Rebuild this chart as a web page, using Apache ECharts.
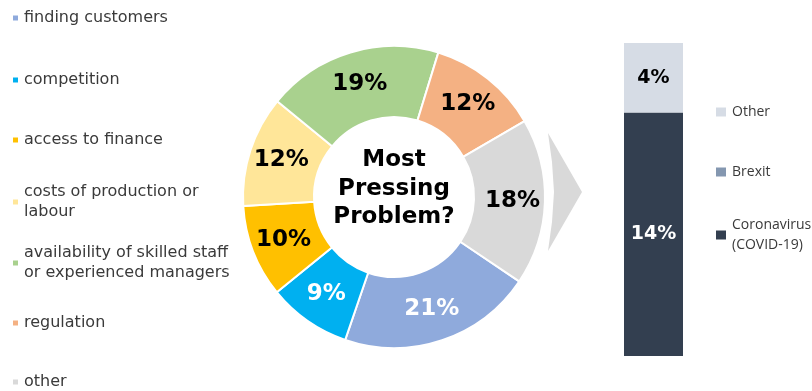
<!DOCTYPE html>
<html>
<head>
<meta charset="utf-8">
<script src="https://cdn.jsdelivr.net/npm/echarts@6/dist/echarts.min.js"></script>
<style>
  html, body { margin: 0; padding: 0; background: #ffffff; }
  #chart { width: 812px; height: 391px; }
</style>
</head>
<body>
<div id="chart"></div>
<script>
// Most pressing problem: share of respondents (%)
const problems = [
  'finding customers',
  'competition',
  'access to finance',
  'costs of production or\nlabour',
  'availability of skilled staff\nor experienced managers',
  'regulation',
  'other'
];
const problemShares = [21, 9, 10, 12, 19, 12, 18];

// Breakdown of the "other" slice (%)
const breakdownCategory = ['other'];
const breakdownNames = ['Coronavirus\n(COVID-19)', 'Brexit', 'Other'];
const breakdownValues = [14, 0, 4];

// Styling
const problemColors = ['#8faadc', '#00b0f0', '#ffc000', '#ffe699', '#a9d18e', '#f4b183', '#d9d9d9'];
const problemLabelColors = ['#ffffff', '#ffffff', '#000000', '#000000', '#000000', '#000000', '#000000'];
const breakdownColors = ['#333f50', '#8497b0', '#d6dce5'];
const breakdownLabelColors = ['#ffffff', '#ffffff', '#000000'];

const FONT = "'DejaVu Sans', Verdana, sans-serif";
const LEG_LH = 20;

// Vertical centre of the first text line of each legend entry
const leftLegendRows = [18, 80, 140, 202, 263, 323, 382];
const rightLegendRows = [235, 172, 112];

function legendEntry(name, firstLineY, opts) {
  const multi = name.indexOf('\n') >= 0;
  return Object.assign({
    data: [name],
    orient: 'vertical',
    padding: 0,
    selectedMode: false,
    icon: 'rect',
    itemStyle: { borderWidth: 0 },
    top: firstLineY - (multi ? 1.5 * LEG_LH : 0.5 * LEG_LH)
  }, opts, {
    textStyle: Object.assign({
      lineHeight: LEG_LH,
      padding: multi ? [LEG_LH, 0, 0, 1] : [0, 0, 0, 1]
    }, opts.textStyle)
  });
}

const legends = [];
problems.forEach((name, i) => {
  legends.push(legendEntry(name, leftLegendRows[i], {
    left: 13,
    itemWidth: 5,
    itemHeight: 5,
    itemGap: 0,
    textStyle: { fontFamily: FONT, fontSize: 16, color: '#3a3a3a' }
  }));
});
breakdownNames.forEach((name, i) => {
  legends.push(legendEntry(name, rightLegendRows[i], {
    left: 716,
    itemWidth: 10,
    itemHeight: 9,
    itemGap: 0,
    textStyle: { fontFamily: "'Open Sans', sans-serif", fontSize: 14, color: '#3a3a3a' }
  }));
});

const chart = echarts.init(document.getElementById('chart'), null, { renderer: 'canvas' });

const option = {
  backgroundColor: '#ffffff',
  animation: false,
  title: {
    text: 'Most\nPressing\nProblem?',
    left: 394,
    top: 146,
    padding: 0,
    textAlign: 'center',
    textStyle: {
      fontFamily: FONT,
      fontSize: 23,
      fontWeight: 'bold',
      lineHeight: 28.5,
      color: '#000000'
    }
  },
  legend: legends,
  grid: { left: 624, width: 59, top: 43, height: 313 },
  xAxis: {
    type: 'category',
    data: breakdownCategory,
    show: false
  },
  yAxis: {
    type: 'value',
    min: 0,
    max: 18,
    show: false
  },
  graphic: [{
    // arrow linking the "other" slice to its breakdown
    type: 'polygon',
    silent: true,
    shape: {
      points: [[548, 133], [582, 192], [548, 251], [552, 222], [554, 192], [552, 162]]
    },
    style: { fill: '#d9d9d9' }
  }],
  series: [
    {
      type: 'pie',
      center: [394, 197],
      radius: [80, 151],
      startAngle: -34,
      clockwise: true,
      avoidLabelOverlap: false,
      emphasis: { disabled: true },
      itemStyle: { borderColor: '#ffffff', borderWidth: 2 },
      labelLine: { show: false },
      label: {
        show: true,
        position: 'inside',
        formatter: '{c}%',
        fontFamily: FONT,
        fontSize: 23,
        fontWeight: 'bold'
      },
      data: problems.map((name, i) => ({
        name: name,
        value: problemShares[i],
        itemStyle: { color: problemColors[i] },
        label: { color: problemLabelColors[i] }
      }))
    }
  ].concat(breakdownNames.map((name, i) => ({
    type: 'bar',
    name: name,
    stack: 'breakdown',
    barWidth: '100%',
    emphasis: { disabled: true },
    itemStyle: { color: breakdownColors[i] },
    label: {
      show: true,
      position: 'inside',
      formatter: p => (p.value ? p.value + '%' : ''),
      fontFamily: FONT,
      fontSize: 19,
      fontWeight: 'bold',
      color: breakdownLabelColors[i]
    },
    data: [breakdownValues[i]]
  })))
};

chart.setOption(option);
</script>
</body>
</html>
